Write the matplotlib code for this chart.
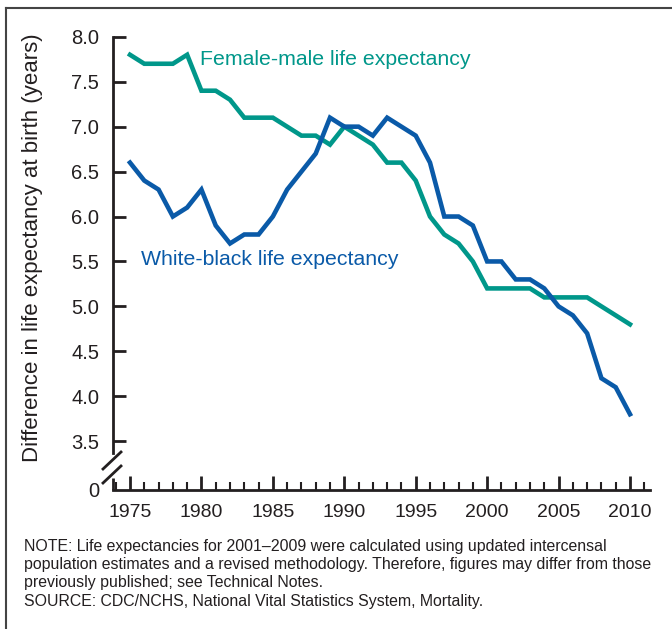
import matplotlib
matplotlib.use("Agg")
import matplotlib.pyplot as plt
from matplotlib.lines import Line2D
from matplotlib.ticker import MultipleLocator

plt.rcParams["font.family"] = ["Liberation Sans", "DejaVu Sans"]

years = list(range(1975, 2011))
female_male = [7.8, 7.7, 7.7, 7.7, 7.8, 7.4, 7.4, 7.3, 7.1, 7.1,
               7.1, 7.0, 6.9, 6.9, 6.8, 7.0, 6.9, 6.8, 6.6, 6.6,
               6.4, 6.0, 5.8, 5.7, 5.5, 5.2, 5.2, 5.2, 5.2, 5.1,
               5.1, 5.1, 5.1, 5.0, 4.9, 4.8]
white_black = [6.6, 6.4, 6.3, 6.0, 6.1, 6.3, 5.9, 5.7, 5.8, 5.8,
               6.0, 6.3, 6.5, 6.7, 7.1, 7.0, 7.0, 6.9, 7.1, 7.0,
               6.9, 6.6, 6.0, 6.0, 5.9, 5.5, 5.5, 5.3, 5.3, 5.2,
               5.0, 4.9, 4.7, 4.2, 4.1, 3.8]
y_ticks = [3.5, 4.0, 4.5, 5.0, 5.5, 6.0, 6.5, 7.0, 7.5, 8.0]
x_ticks = [1975, 1980, 1985, 1990, 1995, 2000, 2005, 2010]

teal = "#00978a"
blue = "#0a5aa8"
ink = "#231f20"

fig = plt.figure(figsize=(6.72, 6.29), dpi=100)
ax = fig.add_axes([113 / 672, 1 - 490 / 629, (650 - 113) / 672, (490 - 35) / 629])

ax.plot(years, female_male, color=teal, lw=3.3, solid_joinstyle="miter")
ax.plot(years, white_black, color=blue, lw=3.3, solid_joinstyle="miter")

y_zero = 3.5 - 49 / 90.2  # position of the broken-axis "0"
ax.set_xlim(1975 - 17 / 14.286, 2010 + 20 / 14.286)
ax.set_ylim(y_zero, 8.0 + 0.02)

ax.set_yticks([y_zero] + y_ticks)
ax.set_yticklabels(["0"] + [f"{v:.1f}" for v in y_ticks])
ax.set_xticks(x_ticks)
ax.xaxis.set_minor_locator(MultipleLocator(1))

for s in ["top", "right"]:
    ax.spines[s].set_visible(False)
ax.spines["left"].set_bounds(3.37, 8.0)
ax.spines["left"].set_linewidth(2)
ax.spines["bottom"].set_linewidth(2)
ax.spines["left"].set_color(ink)
ax.spines["bottom"].set_color(ink)

ax.tick_params(axis="y", direction="in", length=9.5, width=2, color=ink,
               labelsize=14.5, labelcolor=ink, pad=10)
ax.tick_params(axis="x", which="major", direction="in", length=10, width=2,
               color=ink, labelsize=14, labelcolor=ink, pad=10)
ax.tick_params(axis="x", which="minor", direction="in", length=5.5, width=1.5,
               color=ink)
# hide the tick mark at the "0" position
ax.yaxis.get_major_ticks()[0].tick1line.set_visible(False)

# lower stub of the broken axis and the break marks
ax.plot([1975 - 17 / 14.286] * 2, [y_zero, y_zero + 12 / 90.2], color=ink,
        lw=2, clip_on=False, solid_capstyle="butt")
for off in [0, 14]:
    ax.add_artist(Line2D([(103 - 113) / 537, (121 - 113) / 537],
                         [1 - (469 + off - 35) / 455, 1 - (452 + off - 35) / 455],
                         transform=ax.transAxes, color=ink, lw=2, clip_on=False))

ax.text(1979.9, 7.75, "Female-male life expectancy", color=teal, fontsize=15.3,
        va="center", ha="left")
ax.text(1975.8, 5.52, "White-black life expectancy", color=blue, fontsize=15.3,
        va="center", ha="left")

fig.text(33 / 672, 1 - 248 / 629, "Difference in life expectancy at birth (years)",
         rotation=90, va="center", ha="center", fontsize=16, color=ink)

note = ("NOTE: Life expectancies for 2001\u20132009 were calculated using updated intercensal\n"
        "population estimates and a revised methodology. Therefore, figures may differ from those\n"
        "previously published; see Technical Notes.\n"
        "SOURCE: CDC/NCHS, National Vital Statistics System, Mortality.")
fig.text(24 / 672, 1 - 539 / 629, note, va="top", ha="left", fontsize=11.4,
         color=ink, linespacing=1.27)

# outer frame (top and left edges)
fig.add_artist(Line2D([6 / 672, 6 / 672], [0, 1 - 8 / 629], transform=fig.transFigure,
                      color="#444444", lw=1.5))
fig.add_artist(Line2D([6 / 672, 1], [1 - 8 / 629, 1 - 8 / 629], transform=fig.transFigure,
                      color="#444444", lw=1.5))

fig.savefig("out.png", dpi=100)
